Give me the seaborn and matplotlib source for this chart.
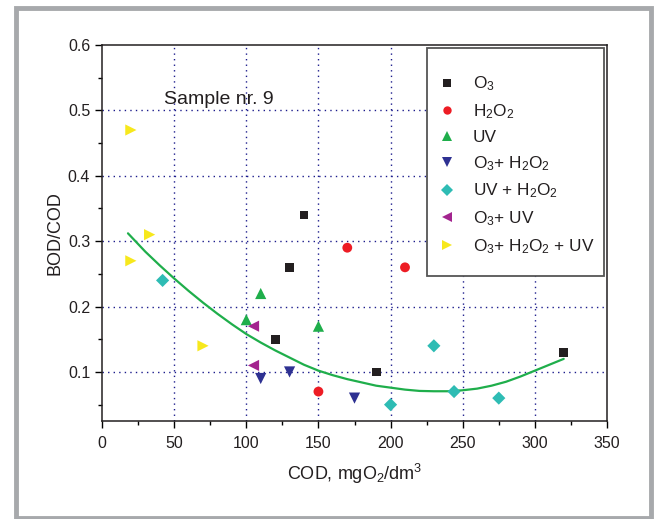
import numpy as np
import pandas as pd
import seaborn as sns
import matplotlib
matplotlib.use("Agg", force=True)
import matplotlib.pyplot as plt
from matplotlib.ticker import MultipleLocator
from matplotlib.patches import Rectangle

# series (COD, BOD/COD)
o3_x = [120, 130, 140, 190, 320]
o3_y = [0.15, 0.26, 0.34, 0.10, 0.13]
h2o2_x = [150, 170, 210]
h2o2_y = [0.07, 0.29, 0.26]
uv_x = [100, 110, 150]
uv_y = [0.18, 0.22, 0.17]
o3_h2o2_x = [110, 130, 175]
o3_h2o2_y = [0.09, 0.10, 0.06]
uv_h2o2_x = [42, 200, 230, 244, 275]
uv_h2o2_y = [0.24, 0.05, 0.14, 0.07, 0.06]
o3_uv_x = [105, 105]
o3_uv_y = [0.17, 0.11]
o3_h2o2_uv_x = [20, 20, 33, 70]
o3_h2o2_uv_y = [0.47, 0.27, 0.31, 0.14]

# fitted trend line
curve_x = [18, 30, 40, 50, 60, 70, 80, 90, 100, 110, 120, 130, 140, 150, 160, 170,
           180, 190, 200, 210, 220, 230, 240, 250, 260, 270, 280, 290, 300, 310, 320]
curve_y = [0.312, 0.284, 0.263, 0.243, 0.224, 0.206, 0.189, 0.173, 0.158, 0.145, 0.133,
           0.122, 0.111, 0.102, 0.095, 0.089, 0.084, 0.079, 0.076, 0.073, 0.071, 0.0705,
           0.0705, 0.072, 0.0745, 0.079, 0.085, 0.093, 0.102, 0.111, 0.120]

labels = [
    r"O$\mathregular{_3}$",
    r"H$\mathregular{_2}$O$\mathregular{_2}$",
    "UV",
    r"O$\mathregular{_3}$+ H$\mathregular{_2}$O$\mathregular{_2}$",
    r"UV + H$\mathregular{_2}$O$\mathregular{_2}$",
    r"O$\mathregular{_3}$+ UV",
    r"O$\mathregular{_3}$+ H$\mathregular{_2}$O$\mathregular{_2}$ + UV",
]
series = [
    (o3_x, o3_y), (h2o2_x, h2o2_y), (uv_x, uv_y), (o3_h2o2_x, o3_h2o2_y),
    (uv_h2o2_x, uv_h2o2_y), (o3_uv_x, o3_uv_y), (o3_h2o2_uv_x, o3_h2o2_uv_y),
]
colors = ["#231f20", "#ed1c24", "#1fae4b", "#2e3192", "#2ebcb4", "#a3248f", "#f7e81c"]
markers = ["s", "o", "^", "v", "D", "<", ">"]
sizes = [40, 50, 65, 65, 45, 65, 65]

rows = []
for lab, (xs, ys) in zip(labels, series):
    for x, y in zip(xs, ys):
        rows.append({"group": lab, "COD": x, "BODCOD": y})
df = pd.DataFrame(rows)

sns.set_theme(style="ticks")
plt.rcParams["font.family"] = ["Liberation Sans", "DejaVu Sans"]

fig = plt.figure(figsize=(6.54, 5.19), dpi=100)
ax = fig.add_axes([102 / 654, 1 - 421 / 519, 505 / 654, 376 / 519])

grid_kw = dict(color="#1c1c8c", linestyle=(0, (1, 3)), linewidth=1.0)
for gx in [50, 100, 150, 200, 250, 300]:
    ax.axvline(gx, zorder=0, **grid_kw)
for gy in [0.1, 0.2, 0.3, 0.4, 0.5]:
    ax.axhline(gy, zorder=0, **grid_kw)

sns.lineplot(x=curve_x, y=curve_y, color="#1fae4b", linewidth=1.6, ax=ax, zorder=2)

handles = []
for lab, col, mk, sz in zip(labels, colors, markers, sizes):
    sub = df[df.group == lab]
    sns.scatterplot(data=sub, x="COD", y="BODCOD", color=col, marker=mk, s=sz,
                    edgecolor="none", ax=ax, zorder=3)
    handles.append(plt.Line2D([], [], linestyle="none", marker=mk, color=col,
                              markersize=np.sqrt(sz) * 0.85, markeredgewidth=0))

ax.set_xlim(0, 350)
ax.set_ylim(0.025, 0.6)
ax.xaxis.set_major_locator(MultipleLocator(50))
ax.xaxis.set_minor_locator(MultipleLocator(25))
ax.yaxis.set_major_locator(MultipleLocator(0.1))
ax.yaxis.set_minor_locator(MultipleLocator(0.05))
ax.tick_params(which="major", length=5, width=1, color="black", labelsize=11.5, labelcolor="#231f20")
ax.tick_params(which="minor", length=3, width=1, color="black")
ax.tick_params(axis="x", pad=6)
for sp in ax.spines.values():
    sp.set_visible(True)
    sp.set_color("#231f20")
    sp.set_linewidth(1.1)

ax.set_xlabel(r"COD, mgO$\mathregular{_2}$/dm$\mathregular{^3}$", fontsize=13, color="#231f20", labelpad=8)
ax.set_ylabel("BOD/COD", fontsize=13, color="#231f20", labelpad=3)

ax.text(43, 0.517, "Sample nr. 9", fontsize=14, color="#231f20", va="center", ha="left")

# legend without its own frame, frame drawn as a box to match the original spacing
leg = ax.legend(handles, labels, loc="upper left", bbox_to_anchor=(0.657, 0.921),
                fontsize=12.4, frameon=False, borderpad=0, labelspacing=0.52,
                handlelength=1.56, handletextpad=0.72, borderaxespad=0)
for t in leg.get_texts():
    t.set_color("#231f20")
ax.add_patch(Rectangle(((427 - 102) / 505, (421 - 276) / 376), 177 / 505, 228 / 376,
                       transform=ax.transAxes, fill=True, facecolor="white",
                       edgecolor="#555555", linewidth=1.3, zorder=4))
leg.set_zorder(5)

# grey outer frame of the figure
fig.patches.append(Rectangle((15.5 / 654, 1 / 519), 635.5 / 654, 510.5 / 519,
                             transform=fig.transFigure, fill=False,
                             edgecolor="#a7a9ac", linewidth=3.5))

fig.savefig("out.png", dpi=100)
